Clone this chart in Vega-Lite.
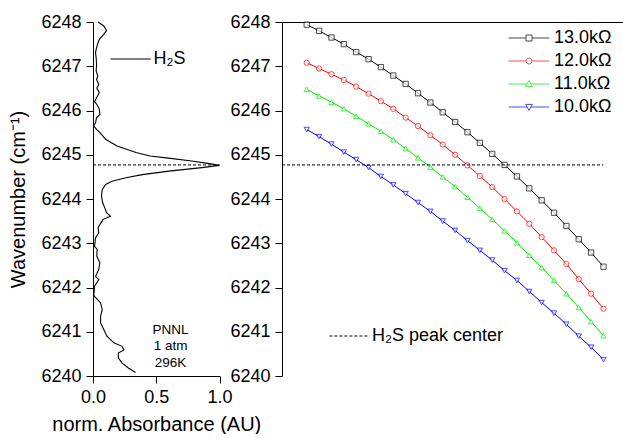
{
  "$schema": "https://vega.github.io/schema/vega-lite/v6.json",
  "padding": {"left": 8, "top": 13, "right": 0, "bottom": 0},
  "background": "white",
  "datasets": {
    "spectrum": [
      {"w": 6248.00, "A": 0.040}, {"w": 6247.91, "A": 0.085}, {"w": 6247.81, "A": 0.107}, {"w": 6247.72, "A": 0.085},
      {"w": 6247.61, "A": 0.050}, {"w": 6247.53, "A": 0.040}, {"w": 6247.42, "A": 0.028}, {"w": 6247.31, "A": 0.020},
      {"w": 6247.19, "A": 0.025}, {"w": 6247.04, "A": 0.028}, {"w": 6246.89, "A": 0.025}, {"w": 6246.78, "A": 0.038},
      {"w": 6246.70, "A": 0.028}, {"w": 6246.59, "A": 0.046}, {"w": 6246.51, "A": 0.030}, {"w": 6246.40, "A": 0.050},
      {"w": 6246.29, "A": 0.028}, {"w": 6246.20, "A": 0.012}, {"w": 6246.14, "A": 0.030}, {"w": 6246.03, "A": 0.050},
      {"w": 6245.91, "A": 0.055}, {"w": 6245.84, "A": 0.028}, {"w": 6245.72, "A": 0.020}, {"w": 6245.65, "A": 0.005},
      {"w": 6245.57, "A": 0.030}, {"w": 6245.50, "A": 0.055}, {"w": 6245.35, "A": 0.100}, {"w": 6245.20, "A": 0.190},
      {"w": 6245.05, "A": 0.340}, {"w": 6244.97, "A": 0.450}, {"w": 6244.93, "A": 0.580}, {"w": 6244.86, "A": 0.780},
      {"w": 6244.80, "A": 0.920}, {"w": 6244.76, "A": 1.000}, {"w": 6244.71, "A": 0.860}, {"w": 6244.63, "A": 0.600},
      {"w": 6244.55, "A": 0.390}, {"w": 6244.48, "A": 0.260}, {"w": 6244.40, "A": 0.150}, {"w": 6244.33, "A": 0.100},
      {"w": 6244.21, "A": 0.073}, {"w": 6244.06, "A": 0.067}, {"w": 6243.91, "A": 0.077}, {"w": 6243.80, "A": 0.093},
      {"w": 6243.69, "A": 0.107}, {"w": 6243.61, "A": 0.138}, {"w": 6243.54, "A": 0.080}, {"w": 6243.45, "A": 0.060},
      {"w": 6243.35, "A": 0.040}, {"w": 6243.24, "A": 0.046}, {"w": 6243.12, "A": 0.020}, {"w": 6242.93, "A": 0.012},
      {"w": 6242.86, "A": 0.033}, {"w": 6242.71, "A": 0.030}, {"w": 6242.56, "A": 0.054}, {"w": 6242.41, "A": 0.046},
      {"w": 6242.25, "A": 0.020}, {"w": 6242.18, "A": 0.046}, {"w": 6242.03, "A": 0.012}, {"w": 6241.82, "A": 0.006},
      {"w": 6241.65, "A": 0.060}, {"w": 6241.50, "A": 0.073}, {"w": 6241.35, "A": 0.060}, {"w": 6241.20, "A": 0.060},
      {"w": 6241.05, "A": 0.085}, {"w": 6240.90, "A": 0.110}, {"w": 6240.75, "A": 0.165}, {"w": 6240.67, "A": 0.230},
      {"w": 6240.59, "A": 0.245}, {"w": 6240.52, "A": 0.200}, {"w": 6240.41, "A": 0.200}, {"w": 6240.29, "A": 0.230},
      {"w": 6240.18, "A": 0.280}, {"w": 6240.08, "A": 0.336}
    ],
    "tuning": [
      {"R": "13.0kΩ", "I": 40, "w": 6247.94}, {"R": "13.0kΩ", "I": 45, "w": 6247.80}, {"R": "13.0kΩ", "I": 50, "w": 6247.65},
      {"R": "13.0kΩ", "I": 55, "w": 6247.50}, {"R": "13.0kΩ", "I": 60, "w": 6247.32}, {"R": "13.0kΩ", "I": 65, "w": 6247.16},
      {"R": "13.0kΩ", "I": 70, "w": 6246.98}, {"R": "13.0kΩ", "I": 75, "w": 6246.79}, {"R": "13.0kΩ", "I": 80, "w": 6246.60},
      {"R": "13.0kΩ", "I": 85, "w": 6246.39}, {"R": "13.0kΩ", "I": 90, "w": 6246.18}, {"R": "13.0kΩ", "I": 95, "w": 6245.96},
      {"R": "13.0kΩ", "I": 100, "w": 6245.74}, {"R": "13.0kΩ", "I": 105, "w": 6245.51}, {"R": "13.0kΩ", "I": 110, "w": 6245.27},
      {"R": "13.0kΩ", "I": 115, "w": 6245.02}, {"R": "13.0kΩ", "I": 120, "w": 6244.77}, {"R": "13.0kΩ", "I": 125, "w": 6244.51},
      {"R": "13.0kΩ", "I": 130, "w": 6244.24}, {"R": "13.0kΩ", "I": 135, "w": 6243.97}, {"R": "13.0kΩ", "I": 140, "w": 6243.69},
      {"R": "13.0kΩ", "I": 145, "w": 6243.39}, {"R": "13.0kΩ", "I": 150, "w": 6243.09}, {"R": "13.0kΩ", "I": 155, "w": 6242.79},
      {"R": "13.0kΩ", "I": 160, "w": 6242.47},
      {"R": "12.0kΩ", "I": 40, "w": 6247.08}, {"R": "12.0kΩ", "I": 45, "w": 6246.95}, {"R": "12.0kΩ", "I": 50, "w": 6246.82},
      {"R": "12.0kΩ", "I": 55, "w": 6246.69}, {"R": "12.0kΩ", "I": 60, "w": 6246.54}, {"R": "12.0kΩ", "I": 65, "w": 6246.38},
      {"R": "12.0kΩ", "I": 70, "w": 6246.21}, {"R": "12.0kΩ", "I": 75, "w": 6246.04}, {"R": "12.0kΩ", "I": 80, "w": 6245.84},
      {"R": "12.0kΩ", "I": 85, "w": 6245.65}, {"R": "12.0kΩ", "I": 90, "w": 6245.44}, {"R": "12.0kΩ", "I": 95, "w": 6245.23},
      {"R": "12.0kΩ", "I": 100, "w": 6245.00}, {"R": "12.0kΩ", "I": 105, "w": 6244.76}, {"R": "12.0kΩ", "I": 110, "w": 6244.52},
      {"R": "12.0kΩ", "I": 115, "w": 6244.27}, {"R": "12.0kΩ", "I": 120, "w": 6244.00}, {"R": "12.0kΩ", "I": 125, "w": 6243.72},
      {"R": "12.0kΩ", "I": 130, "w": 6243.44}, {"R": "12.0kΩ", "I": 135, "w": 6243.14}, {"R": "12.0kΩ", "I": 140, "w": 6242.84},
      {"R": "12.0kΩ", "I": 145, "w": 6242.53}, {"R": "12.0kΩ", "I": 150, "w": 6242.19}, {"R": "12.0kΩ", "I": 155, "w": 6241.86},
      {"R": "12.0kΩ", "I": 160, "w": 6241.52},
      {"R": "11.0kΩ", "I": 40, "w": 6246.48}, {"R": "11.0kΩ", "I": 45, "w": 6246.33}, {"R": "11.0kΩ", "I": 50, "w": 6246.19},
      {"R": "11.0kΩ", "I": 55, "w": 6246.04}, {"R": "11.0kΩ", "I": 60, "w": 6245.87}, {"R": "11.0kΩ", "I": 65, "w": 6245.70},
      {"R": "11.0kΩ", "I": 70, "w": 6245.53}, {"R": "11.0kΩ", "I": 75, "w": 6245.34}, {"R": "11.0kΩ", "I": 80, "w": 6245.14},
      {"R": "11.0kΩ", "I": 85, "w": 6244.93}, {"R": "11.0kΩ", "I": 90, "w": 6244.72}, {"R": "11.0kΩ", "I": 95, "w": 6244.50},
      {"R": "11.0kΩ", "I": 100, "w": 6244.28}, {"R": "11.0kΩ", "I": 105, "w": 6244.04}, {"R": "11.0kΩ", "I": 110, "w": 6243.79},
      {"R": "11.0kΩ", "I": 115, "w": 6243.54}, {"R": "11.0kΩ", "I": 120, "w": 6243.28}, {"R": "11.0kΩ", "I": 125, "w": 6243.01},
      {"R": "11.0kΩ", "I": 130, "w": 6242.73}, {"R": "11.0kΩ", "I": 135, "w": 6242.45}, {"R": "11.0kΩ", "I": 140, "w": 6242.16},
      {"R": "11.0kΩ", "I": 145, "w": 6241.86}, {"R": "11.0kΩ", "I": 150, "w": 6241.55}, {"R": "11.0kΩ", "I": 155, "w": 6241.23},
      {"R": "11.0kΩ", "I": 160, "w": 6240.91},
      {"R": "10.0kΩ", "I": 40, "w": 6245.57}, {"R": "10.0kΩ", "I": 45, "w": 6245.41}, {"R": "10.0kΩ", "I": 50, "w": 6245.24},
      {"R": "10.0kΩ", "I": 55, "w": 6245.06}, {"R": "10.0kΩ", "I": 60, "w": 6244.89}, {"R": "10.0kΩ", "I": 65, "w": 6244.71},
      {"R": "10.0kΩ", "I": 70, "w": 6244.51}, {"R": "10.0kΩ", "I": 75, "w": 6244.32}, {"R": "10.0kΩ", "I": 80, "w": 6244.12},
      {"R": "10.0kΩ", "I": 85, "w": 6243.92}, {"R": "10.0kΩ", "I": 90, "w": 6243.72}, {"R": "10.0kΩ", "I": 95, "w": 6243.50},
      {"R": "10.0kΩ", "I": 100, "w": 6243.29}, {"R": "10.0kΩ", "I": 105, "w": 6243.06}, {"R": "10.0kΩ", "I": 110, "w": 6242.84},
      {"R": "10.0kΩ", "I": 115, "w": 6242.62}, {"R": "10.0kΩ", "I": 120, "w": 6242.38}, {"R": "10.0kΩ", "I": 125, "w": 6242.16},
      {"R": "10.0kΩ", "I": 130, "w": 6241.91}, {"R": "10.0kΩ", "I": 135, "w": 6241.66}, {"R": "10.0kΩ", "I": 140, "w": 6241.42},
      {"R": "10.0kΩ", "I": 145, "w": 6241.17}, {"R": "10.0kΩ", "I": 150, "w": 6240.90}, {"R": "10.0kΩ", "I": 155, "w": 6240.65},
      {"R": "10.0kΩ", "I": 160, "w": 6240.37}
    ],
    "peak": [{"w": 6244.77, "name": "H₂S peak center"}],
    "note": [{"A": 0.613, "w": 6241.05, "label": "PNNL\n1 atm\n296K"}]
  },
  "hconcat": [
    {
      "width": 126.5,
      "height": 354,
      "layer": [
        {
          "data": {"name": "spectrum"},
          "mark": {"type": "line", "strokeWidth": 1.1, "interpolate": "linear"},
          "encoding": {
            "x": {"field": "A", "type": "quantitative", "scale": {"domain": [0, 1], "nice": false, "zero": false},
                  "axis": {"title": "norm. Absorbance (AU)", "values": [0, 0.25, 0.5, 0.75, 1], "format": ".1f",
                           "labelExpr": "(datum.value * 2) % 1 ? '' : datum.label",
                           "tickSize": {"condition": {"test": "(datum.value * 2) % 1", "value": 4}, "value": 7}}},
            "y": {"field": "w", "type": "quantitative", "scale": {"domain": [6240, 6248], "nice": false, "zero": false},
                  "axis": {"title": "Wavenumber (cm⁻¹)", "values": [6240, 6240.5, 6241, 6241.5, 6242, 6242.5, 6243, 6243.5, 6244, 6244.5, 6245, 6245.5, 6246, 6246.5, 6247, 6247.5, 6248],
                           "format": ".0f", "labelExpr": "datum.value % 1 ? '' : datum.label",
                           "tickSize": {"condition": {"test": "datum.value % 1", "value": 4}, "value": 7}}},
            "order": {"field": "w", "type": "quantitative"},
            "stroke": {"datum": "H₂S", "scale": {"range": ["black"]},
                       "legend": {"orient": "none", "legendX": 28.5, "legendY": 28, "title": null,
                                  "symbolType": "M-6.7,0H6.7", "symbolSize": 36, "symbolStrokeWidth": 1.1,
                                  "labelOffset": 14, "labelFontSize": 18}}
          }
        },
        {
          "data": {"name": "peak"},
          "mark": {"type": "rule", "color": "black", "strokeWidth": 1, "strokeDash": [3, 2]},
          "encoding": {
            "x": {"datum": 0, "type": "quantitative"},
            "x2": {"datum": 1},
            "y": {"field": "w", "type": "quantitative"}
          }
        },
        {
          "data": {"name": "note"},
          "mark": {"type": "text", "lineBreak": "\n", "fontSize": 13.5, "lineHeight": 16.5, "align": "center", "baseline": "middle", "color": "black", "font": "Liberation Sans"},
          "encoding": {
            "x": {"field": "A", "type": "quantitative"},
            "y": {"field": "w", "type": "quantitative"},
            "text": {"field": "label"}
          }
        }
      ]
    },
    {
      "width": 342,
      "height": 354,
      "layer": [
        {
          "data": {"name": "tuning"},
          "mark": {"type": "line", "strokeWidth": 1},
          "encoding": {
            "x": {"field": "I", "type": "quantitative", "scale": {"domain": [30, 168.3], "nice": false, "zero": false},
                  "axis": {"title": "Injection Current (mA)", "values": [30, 40, 50, 60, 70, 80, 90, 100, 110, 120, 130, 140, 150, 160],
                           "labelExpr": "datum.value % 20 ? '' : datum.label",
                           "tickSize": {"condition": {"test": "datum.value % 20", "value": 4}, "value": 7}}},
            "y": {"field": "w", "type": "quantitative", "scale": {"domain": [6240, 6248], "nice": false, "zero": false},
                  "axis": {"title": null, "values": [6240, 6240.5, 6241, 6241.5, 6242, 6242.5, 6243, 6243.5, 6244, 6244.5, 6245, 6245.5, 6246, 6246.5, 6247, 6247.5, 6248],
                           "format": ".0f", "labelExpr": "datum.value % 1 ? '' : datum.label",
                           "tickSize": {"condition": {"test": "datum.value % 1", "value": 4}, "value": 7}}},
            "stroke": {"field": "R", "type": "nominal",
                       "scale": {"domain": ["13.0kΩ", "12.0kΩ", "11.0kΩ", "10.0kΩ"], "range": ["black", "red", "#00ee00", "blue"]}}
          }
        },
        {
          "data": {"name": "tuning"},
          "transform": [{"filter": "datum.R === '13.0kΩ'"}],
          "mark": {"type": "point", "shape": "square", "filled": true, "fill": "white", "size": 28, "strokeWidth": 1},
          "encoding": {
            "x": {"field": "I", "type": "quantitative", "axis": {"orient": "top", "labels": false, "ticks": false, "title": null}},
            "y": {"field": "w", "type": "quantitative"},
            "stroke": {"field": "R", "type": "nominal"}
          }
        },
        {
          "data": {"name": "tuning"},
          "transform": [{"filter": "datum.R === '12.0kΩ'"}],
          "mark": {"type": "point", "shape": "circle", "filled": true, "fill": "white", "size": 28, "strokeWidth": 1},
          "encoding": {
            "x": {"field": "I", "type": "quantitative"},
            "y": {"field": "w", "type": "quantitative"},
            "stroke": {"field": "R", "type": "nominal"}
          }
        },
        {
          "data": {"name": "tuning"},
          "transform": [{"filter": "datum.R === '11.0kΩ'"}],
          "mark": {"type": "point", "shape": "triangle-up", "filled": true, "fill": "white", "size": 28, "strokeWidth": 1},
          "encoding": {
            "x": {"field": "I", "type": "quantitative"},
            "y": {"field": "w", "type": "quantitative"},
            "stroke": {"field": "R", "type": "nominal"}
          }
        },
        {
          "data": {"name": "tuning"},
          "transform": [{"filter": "datum.R === '10.0kΩ'"}],
          "mark": {"type": "point", "shape": "triangle-down", "filled": true, "fill": "white", "size": 28, "strokeWidth": 1},
          "encoding": {
            "x": {"field": "I", "type": "quantitative"},
            "y": {"field": "w", "type": "quantitative"},
            "stroke": {"field": "R", "type": "nominal"}
          }
        },
        {
          "data": {"name": "tuning"},
          "transform": [{"filter": "datum.I < 0"}],
          "mark": {"type": "point", "filled": true, "fill": "white", "strokeWidth": 1},
          "encoding": {
            "x": {"field": "I", "type": "quantitative"},
            "y": {"field": "w", "type": "quantitative"},
            "stroke": {"field": "R", "type": "nominal",
                       "legend": {"orient": "none", "legendX": 238, "legendY": 7, "title": null,
                                  "symbolSize": 36, "symbolStrokeWidth": 1, "symbolOpacity": 1, "symbolFillColor": "white",
                                  "labelOffset": 16, "labelFontSize": 18, "rowPadding": 5}},
            "shape": {"field": "R", "type": "nominal",
                      "scale": {"domain": ["13.0kΩ", "12.0kΩ", "11.0kΩ", "10.0kΩ"],
                                "range": ["M-6.8,0H-1M1,0H6.8M-1,-1H1V1H-1Z",
                                          "M-6.8,0H-1M1,0H6.8M-1,0A1,1,0,1,0,1,0A1,1,0,1,0,-1,0Z",
                                          "M-6.8,0H-0.6M0.6,0H6.8M0,-1.15L1.1,0.85L-1.1,0.85Z",
                                          "M-6.8,0H-0.6M0.6,0H6.8M0,1.15L1.1,-0.85L-1.1,-0.85Z"]},
                      "legend": {"orient": "none", "legendX": 238, "legendY": 7, "title": null,
                                 "symbolSize": 36, "symbolStrokeWidth": 1, "symbolOpacity": 1, "symbolFillColor": "white",
                                 "labelOffset": 16, "labelFontSize": 18, "rowPadding": 5}}
          }
        },
        {
          "data": {"name": "peak"},
          "mark": {"type": "rule", "color": "black", "strokeWidth": 1},
          "encoding": {
            "x": {"datum": 30, "type": "quantitative"},
            "x2": {"datum": 160},
            "y": {"field": "w", "type": "quantitative"},
            "strokeDash": {"field": "name", "type": "nominal", "scale": {"range": [[3, 2]]},
                           "legend": {"orient": "none", "legendX": 58.5, "legendY": 305, "title": null,
                                      "symbolType": "M-6.7,0H6.7", "symbolSize": 36, "symbolStrokeWidth": 1,
                                      "symbolStrokeColor": "black", "labelOffset": 13.5, "labelFontSize": 18}}
          }
        }
      ]
    }
  ],
  "spacing": 62,
  "bounds": "flush",
  "resolve": {"scale": {"stroke": "independent", "strokeDash": "independent", "shape": "independent"}},
  "config": {
    "font": "Liberation Sans",
    "view": {"stroke": null},
    "axis": {
      "labelFont": "Liberation Sans", "labelFontSize": 18, "labelColor": "black", "labelPadding": 5,
      "titleFont": "Liberation Sans", "titleFontSize": 20, "titleFontWeight": "normal", "titleColor": "black",
      "domainColor": "black", "tickColor": "black", "grid": false, "tickWidth": 1, "domainWidth": 1,
      "labelOverlap": false, "labelFlush": false
    },
    "axisX": {"titlePadding": 8},
    "axisY": {"titlePadding": 12},
    "legend": {"labelFont": "Liberation Sans", "labelFontSize": 18, "labelColor": "black", "padding": 0}
  }
}
